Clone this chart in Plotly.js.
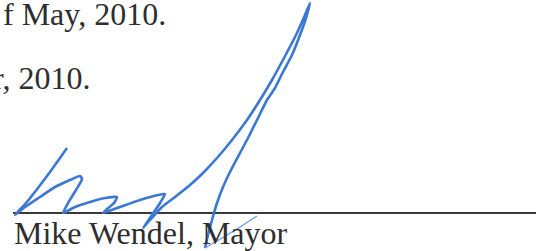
<!DOCTYPE html>
<html>
<head>
<meta charset="utf-8">
<script src="https://cdn.plot.ly/plotly-3.0.1.min.js"></script>
<style>html,body{margin:0;padding:0;background:#fff;}#chart{width:536px;height:251px;}</style>
</head>
<body>
<div id="chart"></div>
<script>
// Text lines of the scanned document
const textLines = ["f May, 2010.", "r, 2010.", "Mike Wendel, Mayor"];

// Signature stroke (pixel-space coordinates)
const sigX = [67,60,50,38,26,15,25,40,55,70,80,82,76,68,63,75,90,105,117,114,106,103,120,140,158,165,160,152,143,150,162,175,190,203,217,232,247,260,272,284,296,305,310,306,300,292,283,275,267,257,248,240,231,223,217,212,208,205];
const sigY = [148,158,172,188,203,215,207,197,187,180,176,179,190,203,213,207,202,198,197,203,210,213,207,200,195,194,203,215,228,220,207,197,185,173,158,140,120,100,80,58,35,15,3,18,35,55,72,88,100,120,138,153,170,187,203,220,235,248];
// Final light hook of the signature
const hookX = [205,222,240,257];
const hookY = [248,238,227,216];

// Signature rule
const ruleX = [13,536];
const ruleY = [213,213];

const traces = [
  {x: ruleX, y: ruleY, mode: 'lines', line: {color: '#3a3a3a', width: 1.8}, hoverinfo: 'skip'},
  {x: sigX, y: sigY, mode: 'lines', line: {color: '#3b78d4', width: 2.6, shape: 'spline', smoothing: 0.5}, hoverinfo: 'skip'},
  {x: hookX, y: hookY, mode: 'lines', line: {color: '#6a9be0', width: 1.3, shape: 'spline'}, hoverinfo: 'skip'}
];

const font = {family: 'Liberation Serif, Times New Roman, serif', size: 32, color: '#2e2e2e'};
const layout = {
  width: 536, height: 251,
  margin: {l: 0, r: 0, t: 0, b: 0},
  paper_bgcolor: '#ffffff', plot_bgcolor: '#ffffff',
  showlegend: false,
  xaxis: {range: [0, 536], visible: false, fixedrange: true},
  yaxis: {range: [251, 0], visible: false, fixedrange: true},
  annotations: [
    {text: textLines[0], x: 1, y: 14, xref: 'x', yref: 'y', xanchor: 'left', yanchor: 'middle', showarrow: false, font: font},
    {text: textLines[1], x: 92, y: 78, xref: 'x', yref: 'y', xanchor: 'right', yanchor: 'middle', showarrow: false, font: font},
    {text: textLines[2], x: 12, y: 233, xref: 'x', yref: 'y', xanchor: 'left', yanchor: 'middle', showarrow: false, font: font}
  ]
};
Plotly.newPlot('chart', traces, layout, {staticPlot: true, displayModeBar: false});
</script>
</body>
</html>
